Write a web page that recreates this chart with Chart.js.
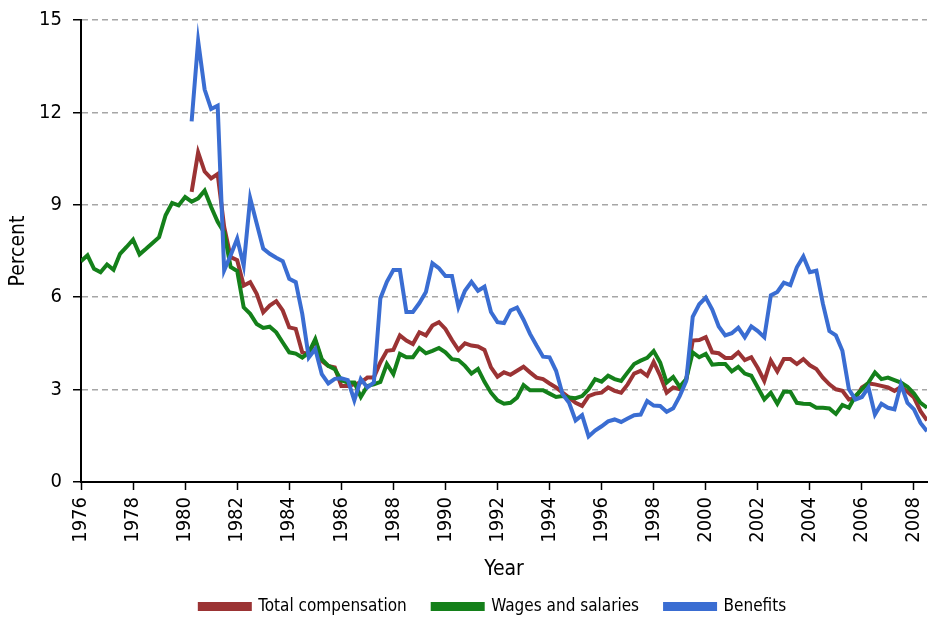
<!DOCTYPE html>
<html>
<head>
<meta charset="utf-8">
<title>Percent change by year</title>
<script src="https://cdn.jsdelivr.net/npm/chart.js@4.4.1/dist/chart.umd.min.js"></script>
<style>
  html, body { margin: 0; padding: 0; background: #fff; }
  #wrap { width: 928px; height: 619px; }
</style>
</head>
<body>
<div id="wrap"><canvas id="chart" width="928" height="619"></canvas></div>
<script>
/* ── Data: quarterly values, first point at the start year ── */
const compStart = 1980.25;
const totalComp = [
  9.42, 10.70, 10.08,
  9.86, 10.00, 8.28, 7.30,
  7.20, 6.38, 6.49, 6.11,
  5.51, 5.73, 5.87, 5.57,
  5.02, 4.97, 4.21, 4.15,
  4.59, 3.93, 3.77, 3.72,
  3.12, 3.12, 3.17, 3.23,
  3.39, 3.39, 3.88, 4.26,
  4.29, 4.76, 4.59, 4.48,
  4.86, 4.76, 5.08, 5.19,
  4.97, 4.61, 4.29, 4.50,
  4.43, 4.40, 4.29, 3.72,
  3.42, 3.56, 3.48, 3.61,
  3.74, 3.56, 3.39, 3.34,
  3.20, 3.07, 2.90, 2.74,
  2.57, 2.47, 2.79, 2.87,
  2.90, 3.07, 2.96, 2.90,
  3.17, 3.52, 3.61, 3.45,
  3.90, 3.45, 2.90, 3.07,
  3.01, 3.31, 4.59, 4.61,
  4.70, 4.21, 4.18, 4.03,
  4.03, 4.21, 3.96, 4.05,
  3.70, 3.28, 3.94, 3.59,
  3.99, 3.99, 3.83, 3.99,
  3.79, 3.67, 3.39, 3.17,
  3.01, 2.96, 2.68, 2.72,
  3.07, 3.20, 3.17, 3.12,
  3.07, 2.96, 3.09, 2.93,
  2.74, 2.30, 2.00,
];

const wageStart = 1976;
const wages = [
  7.17, 7.36, 6.92, 6.81,
  7.06, 6.89, 7.41, 7.63,
  7.87, 7.39, 7.57, 7.76,
  7.95, 8.66, 9.06, 8.98,
  9.25, 9.10, 9.21, 9.46,
  8.93, 8.45, 8.10, 6.98,
  6.85, 5.67, 5.46, 5.13,
  5.00, 5.04, 4.86, 4.53,
  4.21, 4.17, 4.04, 4.20,
  4.64, 3.99, 3.77, 3.66,
  3.30, 3.23, 3.23, 2.76,
  3.12, 3.17, 3.25, 3.83,
  3.50, 4.16, 4.05, 4.05,
  4.35, 4.18, 4.26, 4.35,
  4.21, 3.99, 3.96, 3.77,
  3.52, 3.67, 3.25, 2.90,
  2.65, 2.54, 2.57, 2.74,
  3.15, 2.98, 2.98, 2.98,
  2.87, 2.76, 2.79, 2.74,
  2.72, 2.79, 3.01, 3.34,
  3.26, 3.45, 3.34, 3.28,
  3.56, 3.83, 3.94, 4.03,
  4.25, 3.88, 3.23, 3.41,
  3.09, 3.34, 4.21, 4.05,
  4.16, 3.81, 3.83, 3.83,
  3.59, 3.74, 3.52, 3.45,
  3.07, 2.68, 2.90, 2.54,
  2.93, 2.93, 2.57, 2.54,
  2.53, 2.41, 2.41, 2.39,
  2.21, 2.50, 2.41, 2.79,
  3.01, 3.23, 3.56, 3.34,
  3.39, 3.31, 3.23, 3.09,
  2.87, 2.57, 2.41,
];

const benefitStart = 1980.25;
const benefits = [
  11.71, 14.32, 12.74,
  12.11, 12.22, 6.87, 7.36,
  7.90, 7.03, 9.21, 8.39,
  7.58, 7.41, 7.28, 7.17,
  6.60, 6.49, 5.46, 4.04,
  4.32, 3.50, 3.20, 3.35,
  3.37, 3.31, 2.65, 3.34,
  3.07, 3.23, 5.96, 6.50,
  6.88, 6.88, 5.52, 5.52,
  5.81, 6.17, 7.10, 6.94,
  6.69, 6.69, 5.68, 6.21,
  6.50, 6.21, 6.34, 5.52,
  5.19, 5.16, 5.57, 5.66,
  5.27, 4.81, 4.43, 4.07,
  4.05, 3.61, 2.85, 2.57,
  2.00, 2.17, 1.48, 1.67,
  1.81, 1.97, 2.03, 1.95,
  2.06, 2.17, 2.19, 2.63,
  2.48, 2.47, 2.28, 2.39,
  2.79, 3.28, 5.36, 5.77,
  5.99, 5.60, 5.05, 4.76,
  4.83, 5.01, 4.70, 5.05,
  4.90, 4.70, 6.06, 6.17,
  6.47, 6.39, 6.97, 7.32,
  6.81, 6.86, 5.79, 4.90,
  4.76, 4.26, 3.01, 2.68,
  2.76, 3.07, 2.19, 2.54,
  2.41, 2.36, 3.17, 2.57,
  2.36, 1.92, 1.65,
];

const yearTicks    = [1976, 1978, 1980, 1982, 1984, 1986, 1988, 1990, 1992,
                      1994, 1996, 1998, 2000, 2002, 2004, 2006, 2008];
const percentTicks = [0, 3, 6, 9, 12, 15];

/* ── Helpers ── */
const toPoints = (start, values) => values.map((v, i) => ({ x: start + i / 4, y: v }));

const FONT = "'DejaVu Sans Condensed', 'Liberation Sans Narrow', sans-serif";
const RED   = '#9b3334';
const GREEN = '#14801a';
const BLUE  = '#3a6dd2';

const series = (label, data, color, order) => ({
  label, data, order,
  borderColor: color,
  backgroundColor: color,
  borderWidth: 4,
  pointRadius: 0,
  tension: 0,
  fill: false,
});

// legend sits a little left of the plot centre in the original
const legendShift = {
  id: 'legendShift',
  afterLayout(chart) { chart.legend.left -= 22; },
};

/* ── Chart ── */
new Chart(document.getElementById('chart'), {
  type: 'line',
  data: {
    datasets: [
      series('Total compensation', toPoints(compStart, totalComp), RED, 3),
      series('Wages and salaries', toPoints(wageStart, wages), GREEN, 2),
      series('Benefits', toPoints(benefitStart, benefits), BLUE, 1),
    ],
  },
  plugins: [legendShift],
  options: {
    responsive: false,
    animation: false,
    devicePixelRatio: 1,
    layout: { padding: { left: 6, right: 1, top: 20, bottom: -6 } },
    plugins: {
      tooltip: { enabled: false },
      legend: {
        position: 'bottom',
        fullSize: false,
        labels: {
          sort: (a, b) => a.datasetIndex - b.datasetIndex,
          boxWidth: 50,
          boxHeight: 5,
          padding: 26,
          color: '#000',
          font: { family: FONT, size: 17 },
        },
      },
    },
    scales: {
      x: {
        type: 'linear',
        min: 1976,
        max: 2008.5,
        afterBuildTicks: (scale) => { scale.ticks = yearTicks.map((v) => ({ value: v })); },
        afterFit: (scale) => { scale.height = 90; scale.paddingRight = 0; },
        ticks: {
          minRotation: 90,
          maxRotation: 90,
          padding: 7,
          color: '#000',
          font: { family: FONT, size: 20 },
          callback: (v) => String(v),
        },
        grid: { drawOnChartArea: false, tickLength: 8, tickColor: '#000', tickWidth: 1.5 },
        border: { color: '#000', width: 2 },
        title: {
          display: true,
          text: 'Year',
          color: '#000',
          padding: { top: 0, bottom: -10 },
          font: { family: FONT, size: 21 },
        },
      },
      y: {
        min: 0,
        max: 15,
        afterBuildTicks: (scale) => { scale.ticks = percentTicks.map((v) => ({ value: v })); },
        afterFit: (scale) => { scale.width = 75; scale.paddingTop = 0; scale.paddingBottom = 0; },
        ticks: {
          padding: 11,
          color: '#000',
          font: { family: FONT, size: 20 },
        },
        grid: {
          color: '#a6a6a6',
          lineWidth: 1.5,
          tickLength: 8,
          tickColor: '#000',
          tickWidth: 1.5,
        },
        border: { color: '#000', width: 2, dash: [6, 4] },
        title: {
          display: true,
          text: 'Percent',
          color: '#000',
          padding: { top: 0, bottom: 0 },
          font: { family: FONT, size: 21 },
        },
      },
    },
  },
});
</script>
</body>
</html>
